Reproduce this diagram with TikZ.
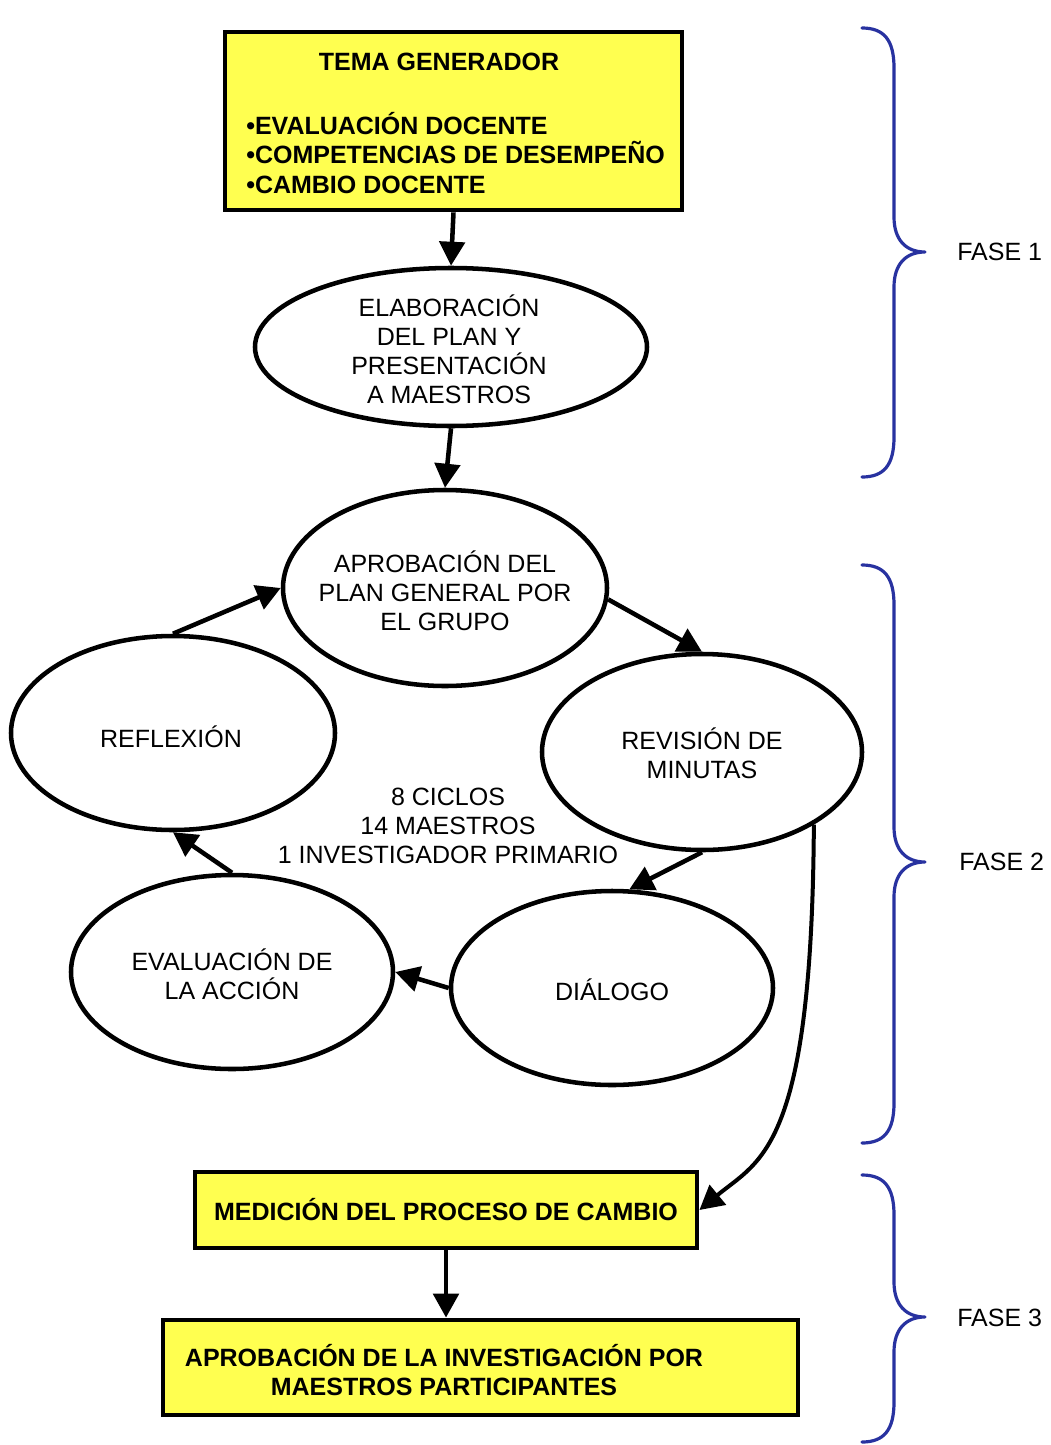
\documentclass[tikz,border=0pt]{standalone}
\usepackage{fontspec}
\setmainfont{Liberation Sans}
\usetikzlibrary{arrows.meta,shapes.geometric}
\definecolor{boxyellow}{RGB}{255,255,80}
\definecolor{braceblue}{RGB}{40,50,160}
\newcommand\phasebrace[3]{%
  \draw[brc] (862,#1) .. controls (884,#1) and (894,#1+12) .. (894,#1+40)
    -- (894,#2-35) .. controls (894,#2-12) and (906,#2) .. (925,#2)
    .. controls (906,#2) and (894,#2+12) .. (894,#2+35)
    -- (894,#3-40) .. controls (894,#3-12) and (884,#3) .. (862,#3);}
\begin{document}
\begin{tikzpicture}[x=0.75pt,y=-0.75pt,
  every node/.style={font=\fontsize{18.75}{21.75}\selectfont, inner sep=0pt},
  ybox/.style={draw=black, line width=3.6pt, fill=boxyellow, rectangle},
  oval/.style={draw=black, line width=3.4pt, ellipse, fill=white},
  arr/.style={line width=3.4pt, -{Triangle[length=18pt,width=19pt]}},
  brc/.style={draw=braceblue, line width=2.4pt, line cap=round, line join=round},
  btxt/.style={font=\fontsize{18.75}{22.2}\selectfont\bfseries, align=center},
  ctxt/.style={align=center}
]
\fill[white] (0,0) rectangle (1050,1445);
\useasboundingbox (0,0) rectangle (1050,1445);

% Fase 1
\node[ybox, minimum width=342.75pt, minimum height=133.5pt] (tema) at (453.5,121) {};
\node[btxt] (temat) at (439,62) {TEMA GENERADOR};
\node[btxt, align=left, anchor=west] (temab) at (246,153) {•EVALUACIÓN DOCENTE\\•COMPETENCIAS DE DESEMPEÑO\\•CAMBIO DOCENTE};

\node[oval, minimum width=294pt, minimum height=118.5pt] (elab) at (451,347) {};
\node[ctxt] (elabt) at (449,349) {ELABORACIÓN\\DEL PLAN Y\\PRESENTACIÓN\\A MAESTROS};

% Fase 2 cycle
\node[oval, minimum width=243pt, minimum height=147pt] (apro) at (445,588) {};
\node[ctxt] (aprot) at (445,591) {APROBACIÓN DEL\\PLAN GENERAL POR\\EL GRUPO};

\node[oval, minimum width=240pt, minimum height=147pt] (revi) at (702,752) {};
\node[ctxt] (revit) at (702,753) {REVISIÓN DE\\MINUTAS};

\node[oval, minimum width=241.5pt, minimum height=145.5pt] (dial) at (612,988) {};
\node[ctxt] (dialt) at (612,990) {DIÁLOGO};

\node[oval, minimum width=241.5pt, minimum height=145.5pt] (eval) at (232,972) {};
\node[ctxt] (evalt) at (232,974) {EVALUACIÓN DE\\LA ACCIÓN};

\node[oval, minimum width=243pt, minimum height=145.5pt] (refl) at (173,733) {};
\node[ctxt] (reflt) at (171,737) {REFLEXIÓN};

\node[ctxt] (ciclos) at (448,826) {8 CICLOS\\14 MAESTROS\\1 INVESTIGADOR PRIMARIO};

% Fase 3
\node[ybox, btxt, minimum width=376.5pt, minimum height=57pt] (medi) at (446,1210) {MEDICIÓN DEL PROCESO DE CAMBIO};
\node[ybox, minimum width=476.25pt, minimum height=71.25pt] (aprinv) at (480.5,1367.5) {};
\node[btxt] (aprinvt) at (444,1370) {APROBACIÓN DE LA INVESTIGACIÓN POR\\MAESTROS PARTICIPANTES};

% connectors
\draw[arr] (tema.south) -- (elab.north);
\draw[arr] (elab.south) -- (apro.north);
\draw[arr] (apro.-4) -- (revi.north);
\draw[arr] (revi.south) -- (dial.80);
\draw[arr] (dial.west) -- (eval.east);
\draw[arr] (eval.north) -- (refl.south);
\draw[arr] (refl.north) -- (apro.west);
\draw[arr, line width=3pt] (revi.-33) .. controls (812,1150) and (760,1160) .. (medi.east);
\draw[arr] (medi.south) -- (medi.south |- aprinv.north);

% braces
\phasebrace{28}{252}{477}
\phasebrace{565}{862}{1143}
\phasebrace{1175}{1317}{1442}

\node[anchor=west] (f1) at (957,252) {FASE 1};
\node[anchor=west] (f2) at (959,862) {FASE 2};
\node[anchor=west] (f3) at (957,1318) {FASE 3};
\end{tikzpicture}
\end{document}
